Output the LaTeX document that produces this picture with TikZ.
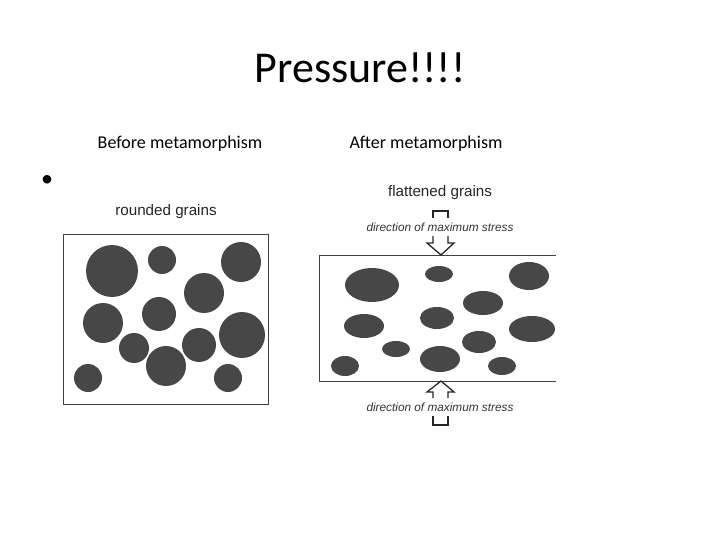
\documentclass[tikz,border=0pt]{standalone}
\usepackage{fontspec}
\setmainfont{Carlito}
\newfontfamily\helv{Liberation Sans}
\begin{document}
\begin{tikzpicture}[x=1pt,y=-1pt,
  grain/.style={fill=black!72,draw=none},
  frame/.style={draw=black!75,line width=0.9pt},
  lbl/.style={font=\helv\fontsize{15.2}{17}\selectfont,text=black!85},
  dir/.style={font=\helv\itshape\fontsize{11.8}{13}\selectfont,text=black!80},
  arr/.style={draw=black!85,line width=1.3pt}]
\useasboundingbox (0,0) rectangle (720,540);
\node (title) at (360,68) {\fontsize{44}{48}\selectfont Pressure!!!!};
\node (before) at (180,144) {\fontsize{18}{20}\selectfont Before metamorphism};
\node (after) at (426,144) {\fontsize{18}{20}\selectfont After metamorphism};
\node (bullet) at (47,181) {\fontsize{24}{26}\selectfont •};
% left
\node[lbl] (rg) at (166,212) {rounded grains};
\draw[frame] (63,234) rectangle (268,404);
\foreach \x/\y/\r in {112/271/26,162/260/14,241/262/20,204/293/20,103/323/20,159/314/17,134/348/15,199/345/17,242/335/23,166/366/20,88/378/14,228/378/14}
  \fill[grain] (\x,\y) circle (\r);
% right
\node[lbl] (fg) at (440,193) {flattened grains};
\draw[frame] (556,255) -- (319,255) -- (319,381) -- (556,381);
\foreach \x/\y/\a/\b in {372/285/27/17,439/274/14/8,529/276/20/14,483/303/20/12,364/326/20/12,437/318/17/11,532/329/23/13,479/342/17/11,396/349/14/8,440/359/20/13,345/366/14/10,502/366/14/9}
  \fill[grain] (\x,\y) ellipse [x radius=\a, y radius=\b];
\node[dir] (d1) at (440,227) {direction of maximum stress};
\node[dir] (d2) at (440,407) {direction of maximum stress};
\draw[arr] (433,218) -- (433,211) -- (448,211) -- (448,218);
\draw[arr] (433,236) -- (433,243) -- (427,243) -- (441,255) -- (454,243) -- (448,243) -- (448,236);
\draw[arr] (433,416) -- (433,425) -- (448,425) -- (448,416);
\draw[arr] (433,398) -- (433,392) -- (427,392) -- (441,381) -- (454,392) -- (448,392) -- (448,398);
\end{tikzpicture}
\end{document}
